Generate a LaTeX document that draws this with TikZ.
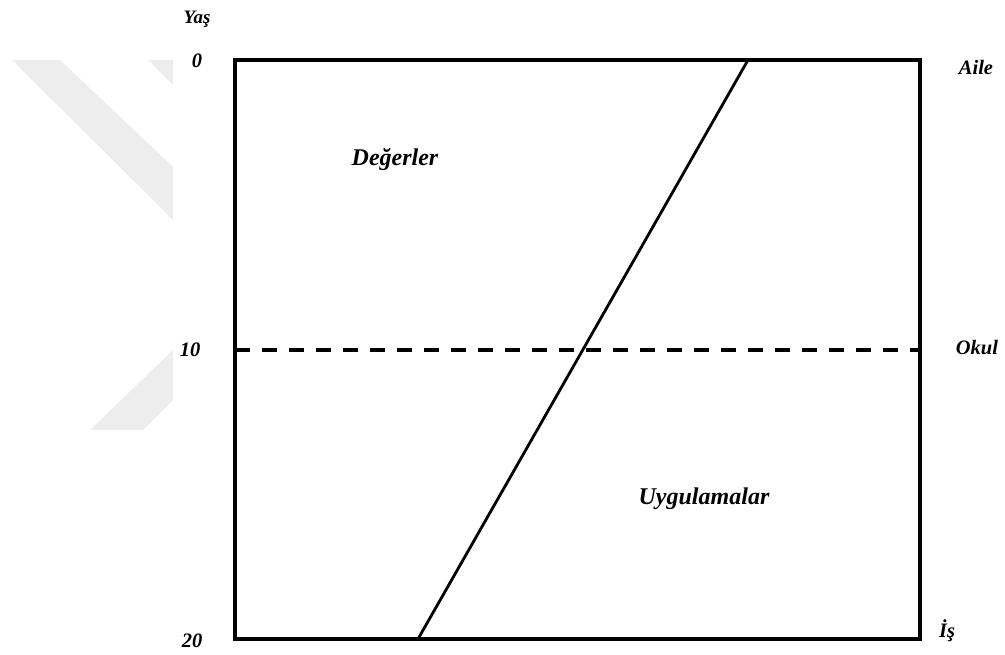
\documentclass[tikz,border=0pt]{standalone}
\usepackage{fontspec}
\setmainfont{Liberation Serif}
\usepackage{xcolor}
\usetikzlibrary{positioning}
\definecolor{markgray}{RGB}{237,237,237}
\tikzset{
    scale label/.style={font=\fontsize{20.5}{24}\selectfont\bfseries\itshape, inner sep=0pt},
    axis title/.style={font=\fontsize{19}{22}\selectfont\bfseries\itshape, inner sep=0pt},
    area label/.style={font=\fontsize{24}{28}\selectfont\bfseries\itshape, inner sep=0pt},
    frame/.style={line width=3.2pt},
    split/.style={line width=3.8pt, dash pattern=on 15pt off 12pt},
    border/.style={line width=2.8pt}
}

\begin{document}
\begin{tikzpicture}[x=1pt, y=-1pt]
    \useasboundingbox (0,0) rectangle (1005,655);

    % watermark
    \fill[markgray] (12,60) -- (60,60) -- (173,167) -- (173,220) -- cycle;
    \fill[markgray] (148,60) -- (173,60) -- (173,85) -- cycle;
    \fill[markgray] (173,350) -- (90,430) -- (143,430) -- (173,400) -- cycle;

    \coordinate (tl) at (235,60);
    \coordinate (br) at (920,639);
    \coordinate (ml) at (235,350);
    \coordinate (mr) at (920,350);
    \coordinate (top) at (748,60);
    \coordinate (bot) at (418,639);

    \draw[frame] (tl) rectangle (br);
    \draw[split] (ml) -- (mr);
    \draw[border] (top) -- (bot);

    \node[axis title] (yas) at (197,19) {Yaş};
    \node[scale label] (y0) at (197,61) {0};
    \node[scale label] (y10) at (190,350) {10};
    \node[scale label] (y20) at (192,641) {20};

    \node[scale label] (aile) at (976,67) {Aile};
    \node[scale label] (okul) at (977,348) {Okul};
    \node[scale label] (is) at (947,631) {İş};

    \node[area label] (deger) at (395,160) {Değerler};
    \node[area label] (uygu) at (704,499) {Uygulamalar};
\end{tikzpicture}
\end{document}
